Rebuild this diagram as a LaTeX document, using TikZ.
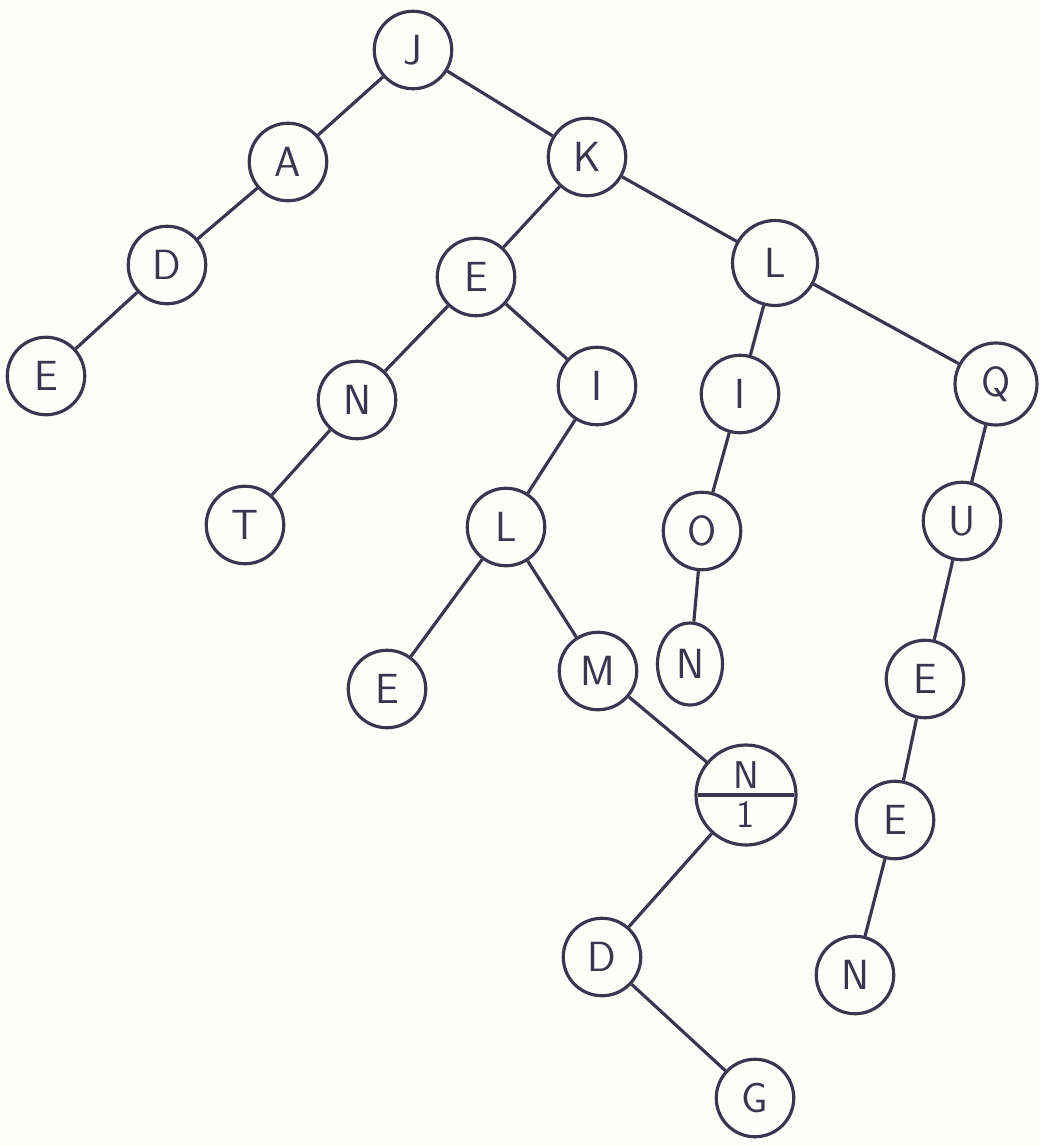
\documentclass[tikz,border=0pt]{standalone}
\usetikzlibrary{shapes.geometric,shapes.multipart}
\definecolor{ink}{HTML}{3B3550}
\definecolor{paper}{HTML}{FDFDF9}
\tikzset{
  letter/.style={circle, draw=ink, line width=1.8pt, minimum size=1.55cm,
    inner sep=0pt, text=ink, font=\sffamily\fontsize{24}{26}\selectfont},
  branch/.style={draw=ink, line width=1.8pt}
}
\begin{document}
\begin{tikzpicture}[x=0.02cm, y=-0.02cm]
  \fill[paper] (0,0) rectangle (1040,1146);
  \useasboundingbox (0,0) rectangle (1040,1146);
  % left arm
  \node[letter] (J)  at (413,50)  {J};
  \node[letter] (A)  at (288,162) {A};
  \node[letter] (D1) at (167,265) {D};
  \node[letter] (E1) at (46,376)  {E};
  % middle
  \node[letter] (K)  at (587,157) {K};
  \node[letter] (E2) at (476,277) {E};
  \node[letter] (N1) at (357,400) {N};
  \node[letter] (T)  at (245,525) {T};
  \node[letter] (I1) at (597,386) {I};
  \node[letter] (L2) at (506,527) {L};
  \node[letter] (E3) at (387,689) {E};
  \node[letter] (M)  at (598,671) {M};
  \node[circle split, draw=ink, line width=1.8pt, minimum size=2cm, inner sep=3pt,
    text=ink, font=\sffamily\fontsize{22}{24}\selectfont] (N3) at (746,795)
    {N \nodepart{lower} 1};
  \node[letter] (D2) at (602,957) {D};
  \node[letter] (G)  at (755,1098) {G};
  % right arm
  \node[letter, minimum size=1.7cm] (L1) at (775,263) {L};
  \node[letter] (I2) at (740,394) {I};
  \node[letter] (O)  at (702,531) {O};
  \node[letter, ellipse, minimum width=1.3cm, minimum height=1.64cm] (N2) at (690,664) {N};
  \node[letter, minimum size=1.64cm] (Q) at (996,384) {Q};
  \node[letter] (U)  at (962,521) {U};
  \node[letter] (E4) at (925,679) {E};
  \node[letter] (E5) at (895,820) {E};
  \node[letter] (N4) at (855,975) {N};
  % branches
  \draw[branch] (J) -- (A);
  \draw[branch] (A) -- (D1);
  \draw[branch] (D1) -- (E1);
  \draw[branch] (J) -- (K);
  \draw[branch] (K) -- (E2);
  \draw[branch] (E2) -- (N1);
  \draw[branch] (N1) -- (T);
  \draw[branch] (E2) -- (I1);
  \draw[branch] (I1) -- (L2);
  \draw[branch] (L2) -- (E3);
  \draw[branch] (L2) -- (M);
  \draw[branch] (M) -- (N3);
  \draw[branch] (N3) -- (D2);
  \draw[branch] (D2) -- (G);
  \draw[branch] (K) -- (L1);
  \draw[branch] (L1) -- (I2);
  \draw[branch] (I2) -- (O);
  \draw[branch] (O) -- (N2);
  \draw[branch] (L1) -- (Q);
  \draw[branch] (Q) -- (U);
  \draw[branch] (U) -- (E4);
  \draw[branch] (E4) -- (E5);
  \draw[branch] (E5) -- (N4);
\end{tikzpicture}
\end{document}
